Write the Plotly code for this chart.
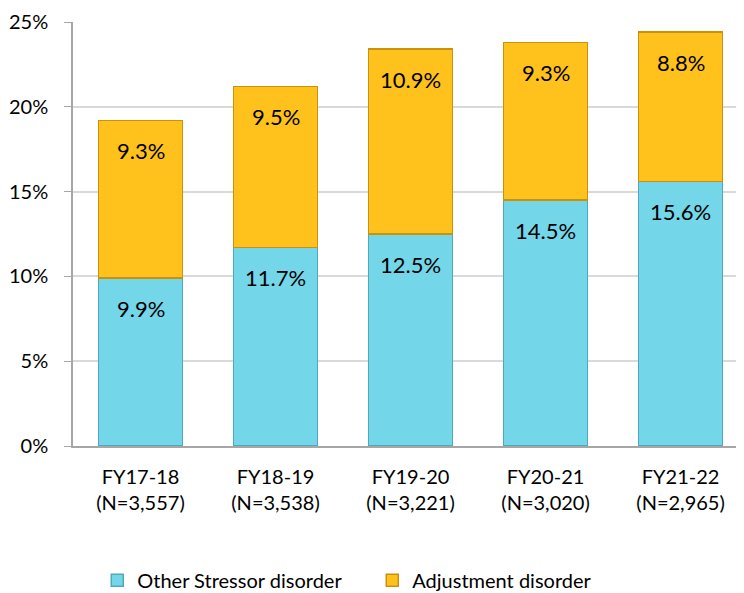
import plotly.graph_objects as go

years = ["FY17-18<br>(N=3,557)", "FY18-19<br>(N=3,538)", "FY19-20<br>(N=3,221)",
         "FY20-21<br>(N=3,020)", "FY21-22<br>(N=2,965)"]
other_stressor = [9.9, 11.7, 12.5, 14.5, 15.6]
adjustment = [9.3, 9.5, 10.9, 9.3, 8.8]

font = "Lato, 'Open Sans', sans-serif"

fig = go.Figure()
fig.add_trace(go.Bar(x=years, y=other_stressor, name="Other Stressor disorder",
                     marker=dict(color="#74D6E9", line=dict(color="#4FA9BC", width=1.5))))
fig.add_trace(go.Bar(x=years, y=adjustment, name="Adjustment disorder",
                     marker=dict(color="#FFC11C", line=dict(color="#C9920A", width=1.5))))

# value labels, placed a little below the top of each segment
for i, yr in enumerate(years):
    top1 = other_stressor[i]
    top2 = other_stressor[i] + adjustment[i]
    for top, v in [(top1, other_stressor[i]), (top2, adjustment[i])]:
        fig.add_annotation(x=yr, y=top, text=f"{v:.1f}%", showarrow=False,
                           yanchor="middle", yshift=-30,
                           font=dict(size=22, color="black", family=font))

# the page body adds an 8px margin, so margins are reduced by 8
fig.update_layout(
    barmode="stack", bargap=0.377,
    width=744, height=593,
    margin=dict(l=65, r=8, t=14, b=155, autoexpand=False),
    plot_bgcolor="white", paper_bgcolor="white",
    font=dict(family=font, size=20, color="black"),
    legend=dict(orientation="h", x=0.12, y=0.035, xref="container", yref="container",
                xanchor="left", yanchor="middle", traceorder="normal",
                font=dict(size=20), entrywidth=230, entrywidthmode="pixels"),
    showlegend=True,
)
fig.update_xaxes(range=[-0.5, 4.47], showline=True, linecolor="#A6A6A6", linewidth=1.5,
                 tickfont=dict(size=20), ticks="", ticklabelstandoff=12, automargin=False)
fig.update_yaxes(range=[0, 25], dtick=5, ticksuffix="%", showline=True, linecolor="#A6A6A6",
                 linewidth=1.5, gridcolor="#D9D9D9", gridwidth=1.5, ticks="outside",
                 ticklen=7, tickcolor="#A6A6A6", tickfont=dict(size=20), zeroline=False,
                 ticklabelstandoff=12, automargin=False)

fig.write_html("out.html")
